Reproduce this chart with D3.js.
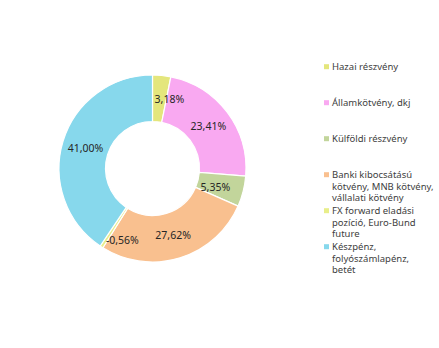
<!DOCTYPE html>
<html>
<head>
<meta charset="utf-8">
<script src="https://cdn.jsdelivr.net/npm/d3@7"></script>
<style>
  body { margin: 0; background: #fff; }
  text { font-family: "Noto Sans", "Open Sans", sans-serif; }
</style>
</head>
<body>
<div id="chart"></div>
<script>
var svgWidth = 439;
var svgHeight = 348;

var categories = [
  "Hazai részvény",
  "Államkötvény, dkj",
  "Külföldi részvény",
  "Banki kibocsátású kötvény, MNB kötvény, vállalati kötvény",
  "FX forward eladási pozíció, Euro-Bund future",
  "Készpénz, folyószámlapénz, betét"
];
var values = [3.18, 23.41, 5.35, 27.62, -0.56, 41.00];
var legendLines = [
  ["Hazai részvény"],
  ["Államkötvény, dkj"],
  ["Külföldi részvény"],
  ["Banki kibocsátású", "kötvény, MNB kötvény,", "vállalati kötvény"],
  ["FX forward eladási", "pozíció, Euro-Bund", "future"],
  ["Készpénz,", "folyószámlapénz,", "betét"]
];
var colors = ["#e4e67c", "#f9a9f1", "#c2d59b", "#f9c08f", "#e8ee8a", "#87d8ec"];

// Excel moves labels of thin slices a bit
var labelNudge = { 0: [10, 0], 2: [-5, 2], 4: [8, 13] };

var cx = 152.5, cy = 168.5;
var outerR = 93.5, innerR = 47, labelR = 70;

var svg = d3.select("#chart")
  .append("svg")
  .attr("width", svgWidth)
  .attr("height", svgHeight);

var pie = d3.pie()
  .value(d => Math.abs(d))
  .sort(null);

var arc = d3.arc()
  .innerRadius(innerR)
  .outerRadius(outerR);

var labelArc = d3.arc()
  .innerRadius(labelR)
  .outerRadius(labelR);

var chart = svg.append("g")
  .attr("transform", `translate(${cx}, ${cy})`);

var arcs = pie(values);

chart.selectAll("path")
  .data(arcs)
  .enter()
  .append("path")
  .attr("d", arc)
  .attr("fill", (d, i) => colors[i])
  .attr("stroke", "#fff")
  .attr("stroke-width", 1.2);

var fmt = v => v.toFixed(2).replace(".", ",") + "%";

chart.selectAll("text.lbl")
  .data(arcs)
  .enter()
  .append("text")
  .attr("class", "lbl")
  .attr("x", (d, i) => labelArc.centroid(d)[0] + (labelNudge[i] ? labelNudge[i][0] : 0))
  .attr("y", (d, i) => labelArc.centroid(d)[1] + (labelNudge[i] ? labelNudge[i][1] : 0))
  .attr("text-anchor", "middle")
  .attr("dy", "0.35em")
  .attr("font-size", "10.5px")
  .attr("fill", "#262626")
  .text(d => fmt(d.data));

// legend
var legendY = d3.scalePoint()
  .domain(categories)
  .range([66.7, 246.7]);

var legend = svg.append("g");

var item = legend.selectAll("g")
  .data(categories)
  .enter()
  .append("g")
  .attr("transform", d => `translate(324, ${legendY(d)})`);

item.append("rect")
  .attr("x", 0)
  .attr("y", -2.5)
  .attr("width", 5)
  .attr("height", 5)
  .attr("fill", (d, i) => colors[i]);

item.each(function(d, i) {
  var t = d3.select(this).append("text")
    .attr("x", 8)
    .attr("font-size", "9.5px")
    .attr("fill", "#404040");
  legendLines[i].forEach(function(line, j) {
    t.append("tspan")
      .attr("x", 8)
      .attr("y", j * 11.6)
      .attr("dy", "0.35em")
      .text(line);
  });
});
</script>
</body>
</html>
